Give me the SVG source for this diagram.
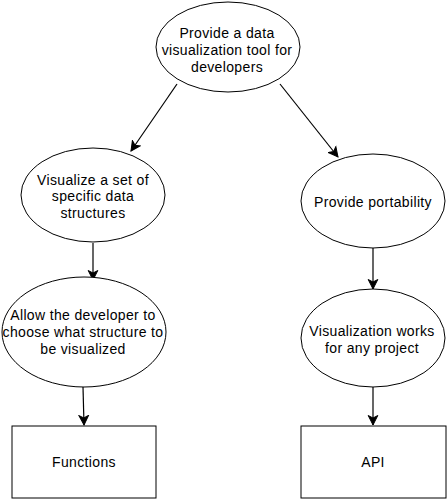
<svg xmlns="http://www.w3.org/2000/svg" width="448" height="502" viewBox="0 0 448 502">
<defs>
<style>
.shape{fill:#fff;stroke:#000;stroke-width:1}
.lbl{font-family:"Liberation Sans",Arial,sans-serif;font-size:14px;letter-spacing:0.35px;fill:#000;text-anchor:middle}
.edge{fill:none;stroke:#000;stroke-width:1.2;marker-end:url(#arr)}
</style>
<marker id="arr" markerUnits="userSpaceOnUse" markerWidth="12" markerHeight="12" viewBox="-10 -6 12 12" refX="0" refY="0" orient="auto">
<path d="M0,0 L-9.5,-4.8 L-7,0 L-9.5,4.8 Z" fill="#000" stroke="#000" stroke-width="1"/>
</marker>
</defs>
<rect width="448" height="502" fill="#fff"/>
<g id="connectors">
<line class="edge" x1="177" y1="84" x2="131" y2="151"/>
<line class="edge" x1="280" y1="84" x2="338" y2="157"/>
<line class="edge" x1="93" y1="243" x2="93" y2="280"/>
<line class="edge" x1="83" y1="387" x2="84" y2="425"/>
<line class="edge" x1="373" y1="248" x2="373" y2="289"/>
<line class="edge" x1="373" y1="387" x2="373" y2="425"/>
</g>
<g id="n1">
<ellipse class="shape" cx="228" cy="47" rx="72" ry="45"/>
<text class="lbl" x="227" y="38">Provide a data</text>
<text class="lbl" x="227" y="55">visualization tool for</text>
<text class="lbl" x="227" y="72">developers</text>
</g>
<g id="n2">
<ellipse class="shape" cx="93" cy="195" rx="72" ry="47"/>
<text class="lbl" x="93" y="185">Visualize a set of</text>
<text class="lbl" x="93" y="201">specific data</text>
<text class="lbl" x="93" y="218">structures</text>
</g>
<g id="n3">
<ellipse class="shape" cx="84" cy="332" rx="82" ry="55"/>
<text class="lbl" x="83" y="320">Allow the developer to</text>
<text class="lbl" x="83" y="337">choose what structure to</text>
<text class="lbl" x="83" y="354">be visualized</text>
</g>
<g id="n4">
<rect class="shape" x="12" y="426" width="144" height="72"/>
<text class="lbl" x="84" y="467">Functions</text>
</g>
<g id="n5">
<ellipse class="shape" cx="373" cy="201" rx="72" ry="47"/>
<text class="lbl" x="373" y="207">Provide portability</text>
</g>
<g id="n6">
<ellipse class="shape" cx="373" cy="338" rx="72" ry="49"/>
<text class="lbl" x="372" y="336">Visualization works</text>
<text class="lbl" x="372" y="353">for any project</text>
</g>
<g id="n7">
<rect class="shape" x="301" y="426" width="145" height="72"/>
<text class="lbl" x="373" y="467">API</text>
</g>
</svg>
